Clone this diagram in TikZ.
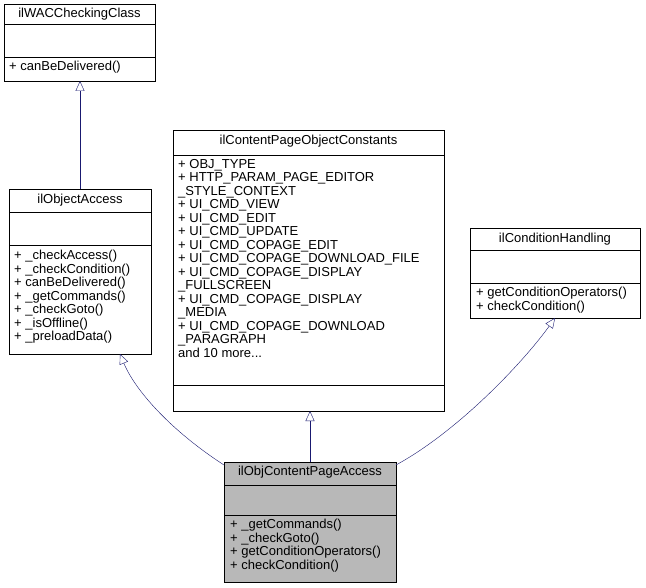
\documentclass[tikz,border=0pt]{standalone}
\usepackage{fontspec}
\setmainfont{Liberation Sans}
\usetikzlibrary{arrows.meta}
\definecolor{edgeblue}{HTML}{191970}
\tikzset{
  cls/.style={draw,rectangle,anchor=north west,inner sep=0pt},
  title/.style={anchor=north,inner sep=0pt,font=\fontsize{13}{13.5}\selectfont},
  members/.style={anchor=north west,align=left,inner sep=0pt,font=\fontsize{13}{13.5}\selectfont},
  inh/.style={draw=edgeblue,-{Triangle[open,length=10pt,width=9pt]},fill=white}
}
\begin{document}
\begin{tikzpicture}[x=1pt,y=-1pt]
  \useasboundingbox (0,0) rectangle (646,588);
  % ilWACCheckingClass
  \node[cls,minimum width=151pt,minimum height=77pt] (wac) at (4,4) {};
  \node[title] (wactitle) at (79.5,8) {ilWACCheckingClass};
  \draw (4,24) -- (155,24) (4,57) -- (155,57);
  \node[members] (wacm) at (9,61) {+ canBeDelivered()};
  % ilObjectAccess
  \node[cls,minimum width=142pt,minimum height=165pt] (access) at (9,189) {};
  \node[title] (accesstitle) at (80,194) {ilObjectAccess};
  \draw (9,212) -- (151,212) (9,245) -- (151,245);
  \node[members] (accessm) at (14,250) {+ \_checkAccess()\\+ \_checkCondition()\\+ canBeDelivered()\\+ \_getCommands()\\+ \_checkGoto()\\+ \_isOffline()\\+ \_preloadData()};
  % ilContentPageObjectConstants
  \node[cls,minimum width=271pt,minimum height=281pt] (consts) at (173,130) {};
  \node[title] (conststitle) at (308.5,135) {ilContentPageObjectConstants};
  \draw (173,155) -- (444,155) (173,385) -- (444,385);
  \node[members] (constsm) at (178,159) {+ OBJ\_TYPE\\+ HTTP\_PARAM\_PAGE\_EDITOR\\\_STYLE\_CONTEXT\\+ UI\_CMD\_VIEW\\+ UI\_CMD\_EDIT\\+ UI\_CMD\_UPDATE\\+ UI\_CMD\_COPAGE\_EDIT\\+ UI\_CMD\_COPAGE\_DOWNLOAD\_FILE\\+ UI\_CMD\_COPAGE\_DISPLAY\\\_FULLSCREEN\\+ UI\_CMD\_COPAGE\_DISPLAY\\\_MEDIA\\+ UI\_CMD\_COPAGE\_DOWNLOAD\\\_PARAGRAPH\\and 10 more...};
  % ilConditionHandling
  \node[cls,minimum width=170pt,minimum height=90pt] (cond) at (470,228) {};
  \node[title] (condtitle) at (555,233) {ilConditionHandling};
  \draw (470,250) -- (640,250) (470,283) -- (640,283);
  \node[members] (condm) at (476,287) {+ getConditionOperators()\\+ checkCondition()};
  % ilObjContentPageAccess
  \node[cls,fill=black!28,minimum width=172pt,minimum height=120pt] (page) at (224,462) {};
  \node[title] (pagetitle) at (310,466) {ilObjContentPageAccess};
  \draw (224,485) -- (396,485) (224,515) -- (396,515);
  \node[members] (pagem) at (230,519) {+ \_getCommands()\\+ \_checkGoto()\\+ getConditionOperators()\\+ checkCondition()};
  % inheritance
  \draw[inh] (80,189) -- (80,81);
  \draw[inh] (224,465) .. controls (170,430) and (135,390) .. (120,354);
  \draw[inh] (310,462) -- (310,411);
  \draw[inh] (396,465) .. controls (460,430) and (525,360) .. (555,318);
\end{tikzpicture}
\end{document}
